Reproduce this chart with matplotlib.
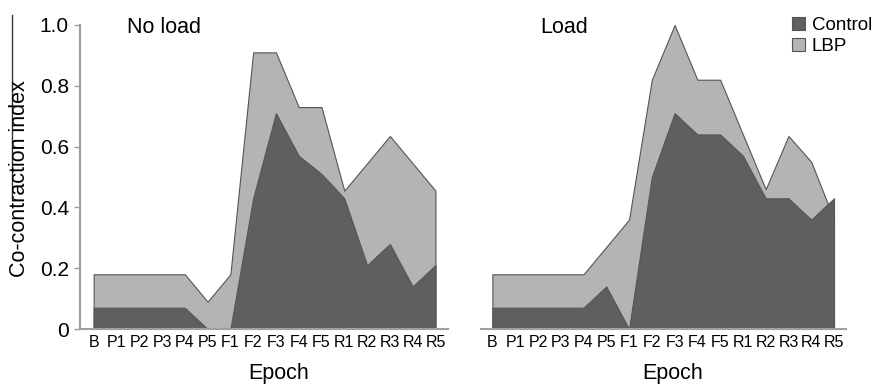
import numpy as np
import matplotlib
matplotlib.use("Agg")
import matplotlib.pyplot as plt
from matplotlib.patches import Patch

plt.rcParams["font.family"] = ["Liberation Sans", "DejaVu Sans"]

epochs = ["B", "P1", "P2", "P3", "P4", "P5", "F1", "F2",
          "F3", "F4", "F5", "R1", "R2", "R3", "R4", "R5"]

noload_control = [0.07, 0.07, 0.07, 0.07, 0.07, 0.0, 0.0, 0.43,
                  0.71, 0.57, 0.51, 0.43, 0.21, 0.28, 0.14, 0.21]
noload_lbp = [0.18, 0.18, 0.18, 0.18, 0.18, 0.09, 0.18, 0.91,
              0.91, 0.73, 0.73, 0.455, 0.545, 0.635, 0.545, 0.455]

load_control = [0.07, 0.07, 0.07, 0.07, 0.07, 0.14, 0.0, 0.50,
                0.71, 0.64, 0.64, 0.57, 0.43, 0.43, 0.36, 0.43]
load_lbp = [0.18, 0.18, 0.18, 0.18, 0.18, 0.27, 0.36, 0.82,
            1.0, 0.82, 0.82, 0.64, 0.46, 0.635, 0.55, 0.36]

yticks = [0, 0.2, 0.4, 0.6, 0.8, 1.0]
ytick_labels = ["0", "0.2", "0.4", "0.6", "0.8", "1.0"]

dark = "#5f5f5f"
light = "#b4b4b4"
edge = "#555555"
axis_col = "#a0a0a0"

fig = plt.figure(figsize=(8.77, 3.84), dpi=100)
ax1 = fig.add_axes([0.0912, 0.1432, 0.4196, 0.7917])
ax2 = fig.add_axes([0.549, 0.1432, 0.416, 0.7917])

x = np.arange(len(epochs))


def panel(ax, control, lbp, title, tx, xlab_x, xlim):
    ax.fill_between(x, 0, lbp, facecolor=light, edgecolor=edge, linewidth=0.8, zorder=2)
    ax.fill_between(x, 0, control, facecolor=dark, edgecolor=edge, linewidth=0.8, zorder=3)
    ax.set_xlim(*xlim)
    ax.set_ylim(0, 1.0)
    ax.set_xticks(x)
    ax.set_xticklabels(epochs, fontsize=11.5)
    ax.tick_params(axis="x", length=0, pad=4)
    for s in ["top", "right"]:
        ax.spines[s].set_visible(False)
    ax.spines["bottom"].set_color(axis_col)
    ax.spines["bottom"].set_linewidth(1.5)
    ax.spines["bottom"].set_zorder(4)
    ax.set_xlabel("Epoch", fontsize=15.5)
    ax.xaxis.set_label_coords(xlab_x, -0.165)
    ax.xaxis.label.set_va("baseline")
    ax.text(tx, 0.974, title, transform=ax.transAxes, fontsize=15.5,
            va="baseline", ha="left")


panel(ax1, noload_control, noload_lbp, "No load", 0.128, 0.54, (-0.6, 15.55))
panel(ax2, load_control, load_lbp, "Load", 0.16, 0.524, (-0.48, 15.54))

ax1.set_yticks(yticks)
ax1.set_yticklabels(ytick_labels, fontsize=15)
ax1.tick_params(axis="y", length=4, width=1, color=axis_col, pad=4)
ax1.spines["left"].set_color(axis_col)
ax1.spines["left"].set_linewidth(1.5)

ax2.spines["left"].set_visible(False)
ax2.set_yticks([])

fig.text(0.0217, 0.534, "Co-contraction index", rotation=90, fontsize=15.5,
         ha="center", va="center")
fig.add_artist(plt.Line2D([0.0133, 0.0133], [0.961, 0.479], color="#333333",
                          linewidth=1.0, transform=fig.transFigure))

handles = [Patch(facecolor=dark, edgecolor=edge, linewidth=0.8, label="Control"),
           Patch(facecolor=light, edgecolor=edge, linewidth=0.8, label="LBP")]
fig.legend(handles=handles, loc="upper left", bbox_to_anchor=(0.903, 0.955),
           frameon=False, fontsize=13.5, handlelength=0.7, handleheight=0.7,
           handletextpad=0.35, labelspacing=0.2, borderpad=0, borderaxespad=0)

fig.savefig("out.png", dpi=100)
